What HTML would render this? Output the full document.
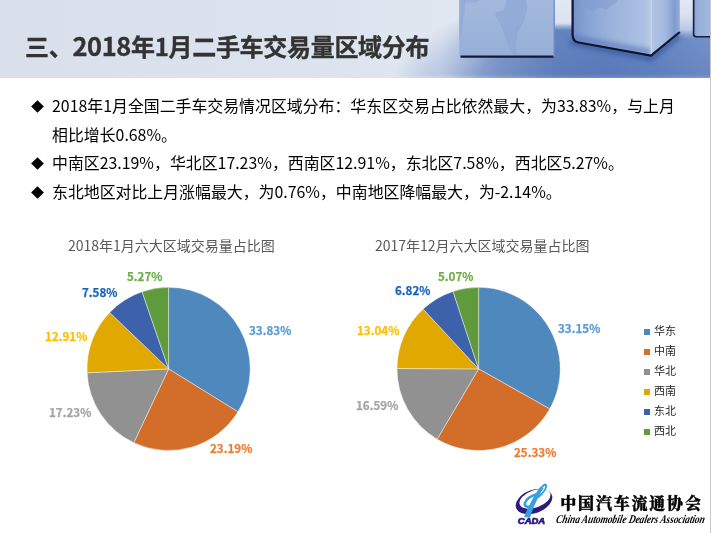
<!DOCTYPE html>
<html><head><meta charset="utf-8">
<style>
html,body{margin:0;padding:0;background:#fff;}
body{width:711px;height:533px;position:relative;overflow:hidden;font-family:"Liberation Sans","Noto Sans CJK SC",sans-serif;}
.abs{position:absolute;white-space:nowrap;opacity:0.999;}
#hdr{position:absolute;left:0;top:0;width:711px;height:78px;}
#title{left:25px;top:28.5px;font-size:24px;font-weight:bold;color:#333;letter-spacing:-0.3px;-webkit-text-stroke:0.35px #333;font-family:"Noto Sans CJK SC",sans-serif;line-height:34px;}
.tn{font-size:25.4px;letter-spacing:-0.35px;position:relative;top:0.2px;line-height:0;}
.bl{font-size:15.9px;color:#000;font-weight:400;font-family:"Noto Sans CJK SC",sans-serif;line-height:20px;}
.dm{position:absolute;width:9px;height:9px;background:#000;transform:rotate(45deg);}
.ct{font-size:14px;color:#595959;font-weight:400;font-family:"Noto Sans CJK SC",sans-serif;line-height:20px;}
.lb{font-size:11.6px;font-weight:bold;-webkit-text-stroke:0.25px currentColor;font-family:"Noto Sans CJK SC",sans-serif;line-height:16px;}
.lg{font-size:11px;color:#262626;font-weight:400;font-family:"Noto Sans CJK SC",sans-serif;line-height:16px;}
.sq{position:absolute;width:6px;height:6px;}
#vline{position:absolute;left:710px;top:0;width:1px;height:533px;background:#cac6c2;}
</style></head><body>
<svg id="hdr" width="711" height="78" viewBox="0 0 711 78">
<defs>
<linearGradient id="hbg" x1="0" y1="0" x2="1" y2="0">
<stop offset="0" stop-color="#d9e0ec"/><stop offset="0.45" stop-color="#dce3ee"/><stop offset="0.62" stop-color="#e1e7f1"/><stop offset="1" stop-color="#dfe6f2"/>
</linearGradient>
<linearGradient id="floorH" x1="440" y1="0" x2="711" y2="0" gradientUnits="userSpaceOnUse">
<stop offset="0" stop-color="#b9c8e5"/><stop offset="0.074" stop-color="#a2b6dd"/><stop offset="0.22" stop-color="#7f9acd"/><stop offset="0.44" stop-color="#6282c0"/><stop offset="0.6" stop-color="#5e7fbe"/><stop offset="0.8" stop-color="#6584c2"/><stop offset="1" stop-color="#7390c8"/>
</linearGradient>
<linearGradient id="floorV" x1="0" y1="40" x2="0" y2="78" gradientUnits="userSpaceOnUse">
<stop offset="0" stop-color="#324f8c" stop-opacity="0"/><stop offset="0.9" stop-color="#324f8c" stop-opacity="0.12"/><stop offset="1" stop-color="#ffffff" stop-opacity="0.1"/>
</linearGradient>
<radialGradient id="fmg" cx="640" cy="90" r="250" gradientUnits="userSpaceOnUse" gradientTransform="translate(640,90) scale(1,0.42) translate(-640,-90)">
<stop offset="0" stop-color="#fff"/><stop offset="0.66" stop-color="#fff"/><stop offset="0.86" stop-color="#999"/><stop offset="1" stop-color="#000"/>
</radialGradient>
<filter id="bl2" x="-20%" y="-50%" width="140%" height="200%"><feGaussianBlur stdDeviation="2"/></filter>
<filter id="bl1" x="-20%" y="-50%" width="140%" height="200%"><feGaussianBlur stdDeviation="1"/></filter>
<mask id="fm"><rect x="380" y="0" width="331" height="78" fill="url(#fmg)"/></mask>
<linearGradient id="c1" x1="0" y1="0" x2="0" y2="1">
<stop offset="0" stop-color="#a3b9dc"/><stop offset="1" stop-color="#97afd8"/>
</linearGradient>
<linearGradient id="c2" x1="0" y1="0" x2="1" y2="0">
<stop offset="0" stop-color="#7491ca"/><stop offset="0.2" stop-color="#88a3d5"/><stop offset="0.5" stop-color="#9bb3db"/><stop offset="0.9" stop-color="#abc0e2"/><stop offset="1" stop-color="#b8c9e6"/>
</linearGradient>
<linearGradient id="c2r" x1="0" y1="0" x2="1" y2="0">
<stop offset="0" stop-color="#b3c5e5"/><stop offset="0.5" stop-color="#a2b8de"/><stop offset="0.82" stop-color="#809bd0"/><stop offset="1" stop-color="#93abd8"/>
</linearGradient>
<linearGradient id="gap2" x1="0" y1="0" x2="0" y2="1">
<stop offset="0" stop-color="#e2e8f3"/><stop offset="0.35" stop-color="#dbe3f0"/><stop offset="0.75" stop-color="#b9c8e5"/><stop offset="1" stop-color="#8fa8d6" stop-opacity="0"/>
</linearGradient>
<linearGradient id="c3" x1="0" y1="0" x2="1" y2="0">
<stop offset="0" stop-color="#7e9ad0"/><stop offset="0.25" stop-color="#96aed9"/><stop offset="1" stop-color="#a3b8dd"/>
</linearGradient>
<linearGradient id="gap" x1="0" y1="0" x2="0" y2="1">
<stop offset="0" stop-color="#e2e8f3"/><stop offset="0.68" stop-color="#dae2f0"/><stop offset="0.9" stop-color="#b5c6e4" stop-opacity="0"/>
</linearGradient>
</defs>
<rect width="711" height="78" fill="url(#hbg)"/>
<g mask="url(#fm)"><rect x="380" y="0" width="331" height="78" fill="url(#floorH)"/><rect x="380" y="40" width="331" height="38" fill="url(#floorV)"/></g>
<rect x="554" y="0" width="19" height="34" fill="url(#gap)"/>
<rect x="679" y="0" width="15" height="40" fill="url(#gap2)"/>
<path d="M462,59 L553,59" stroke="#2f4f92" stroke-width="4" opacity="0.35" filter="url(#bl2)"/>
<path d="M570,42 L651,58.5 L680,35" fill="none" stroke="#2a4a8e" stroke-width="6" opacity="0.5" filter="url(#bl2)"/>
<path d="M694,39 L711,39" stroke="#2a4a8e" stroke-width="4" opacity="0.4" filter="url(#bl2)"/>
<path d="M459.3,0 L554.6,0 L554.6,55 Q554.6,57 552.6,57 L461.3,57 Q459.3,57 459.3,55 Z" fill="url(#c1)"/>
<path d="M459.3,0 L466,0 L464.5,6 L465,12 L463,20 L462,30 L460.5,38 L459.3,40 Z" fill="#8fa9d5" opacity="0.75"/>
<path d="M462,0 L480,0 Q478,3 470,2.5 Q465,2 462,1.5 Z" fill="#8fa9d5" opacity="0.6"/>
<path d="M506.2,0 L525.9,0 Q527.5,5 527,10 Q525.5,17 523.5,22 Q520,28 517.5,33 Q516.3,39 516.5,45 L516.5,53 Q515,55.5 513,55 L511,52 Q508.5,48 508,45 Q506,40 505,38 Q503.5,32 502,28 Q499.5,23 498,20 Q495,16 495.5,13 Q499,11 504,10 Q506,5 506.2,0 Z" fill="#8ea9d6" opacity="0.8"/>
<line x1="554.2" y1="0" x2="554.2" y2="55" stroke="#5f7fbb" stroke-width="1"/>
<line x1="460.5" y1="56.6" x2="553.5" y2="56.6" stroke="#111a33" stroke-width="2.4"/>
<clipPath id="c2clip"><path d="M572.3,0 L651,0 L651,55 L578,41.8 Q572.3,40.8 572.3,35 Z"/></clipPath>
<path d="M572.3,0 L651,0 L651,55 L578,41.8 Q572.3,40.8 572.3,35 Z" fill="url(#c2)"/>
<g clip-path="url(#c2clip)">
<path d="M572,38 L651,52.5" stroke="#5572b4" stroke-width="7" opacity="0.55" filter="url(#bl2)"/>
<path d="M574,0 L574,40" stroke="#4f6eb0" stroke-width="5" opacity="0.45" filter="url(#bl2)"/>
<path d="M578,0 Q583,5 588,9 Q593,14 596,9 Q601,6 606,10 Q612,5 616,3 L618,0 Z" fill="#7f9bd0" opacity="0.55"/>
</g>
<path d="M651,0 L679.8,0 L679.8,31.6 L651,55 Z" fill="url(#c2r)"/>
<path d="M651.2,0 L651.2,54" stroke="#dbe4f3" stroke-width="1.2" opacity="0.6"/>
<path d="M572.6,0 L572.6,35 Q572.6,41.4 578.6,42.5 L651,55.7 L679.8,32" fill="none" stroke="#0d1530" stroke-width="2.2" stroke-linejoin="round"/>
<path d="M693,0 L710,0 L710,37 L696,37 Q693,37 693,34 Z" fill="url(#c3)"/>
<path d="M693.6,0 L693.6,34 Q693.6,36.8 696.5,36.8 L710,36.8" fill="none" stroke="#141e3c" stroke-width="1.6"/>
</svg>
<div class="abs" id="title">三、<span class="tn">2018</span>年1月二手车交易量区域分布</div>

<div class="dm" style="left:33px;top:102px"></div>
<div class="abs bl" style="left:52px;top:96px">2018年1月全国二手车交易情况区域分布：华东区交易占比依然最大，为33.83%，与上月</div>
<div class="abs bl" style="left:52px;top:125px">相比增长0.68%。</div>
<div class="dm" style="left:33px;top:159px"></div>
<div class="abs bl" style="left:52px;top:153px">中南区23.19%，华北区17.23%，西南区12.91%，东北区7.58%，西北区5.27%。</div>
<div class="dm" style="left:33px;top:188px"></div>
<div class="abs bl" style="left:52px;top:182px">东北地区对比上月涨幅最大，为0.76%，中南地区降幅最大，为-2.14%。</div>

<div class="abs ct" style="left:68px;top:235px">2018年1月六大区域交易量占比图</div>
<div class="abs ct" style="left:375px;top:235px">2017年12月六大区域交易量占比图</div>

<svg style="position:absolute;left:0;top:0" width="711" height="533" viewBox="0 0 711 533">
<g stroke="#ffffff" stroke-width="0.5" stroke-opacity="0.85" stroke-linejoin="round">
<path d="M168.6,368.9 L168.60,287.30 A81.6,81.6 0 0 1 237.97,411.87 Z" fill="#4F88BD"/>
<path d="M168.6,368.9 L237.97,411.87 A81.6,81.6 0 0 1 133.79,442.70 Z" fill="#D26D2A"/>
<path d="M168.6,368.9 L133.79,442.70 A81.6,81.6 0 0 1 87.09,372.78 Z" fill="#919191"/>
<path d="M168.6,368.9 L87.09,372.78 A81.6,81.6 0 0 1 109.65,312.48 Z" fill="#E0A800"/>
<path d="M168.6,368.9 L109.65,312.48 A81.6,81.6 0 0 1 142.07,291.73 Z" fill="#3D62AB"/>
<path d="M168.6,368.9 L142.07,291.73 A81.6,81.6 0 0 1 168.60,287.30 Z" fill="#5F9A3C"/>
<path d="M478.6,368.9 L478.60,287.30 A81.6,81.6 0 0 1 549.73,408.88 Z" fill="#4F88BD"/>
<path d="M478.6,368.9 L549.73,408.88 A81.6,81.6 0 0 1 437.15,439.19 Z" fill="#D26D2A"/>
<path d="M478.6,368.9 L437.15,439.19 A81.6,81.6 0 0 1 397.00,368.54 Z" fill="#919191"/>
<path d="M478.6,368.9 L397.00,368.54 A81.6,81.6 0 0 1 423.15,309.03 Z" fill="#E0A800"/>
<path d="M478.6,368.9 L423.15,309.03 A81.6,81.6 0 0 1 453.04,291.41 Z" fill="#3D62AB"/>
<path d="M478.6,368.9 L453.04,291.41 A81.6,81.6 0 0 1 478.60,287.30 Z" fill="#5F9A3C"/>
</g>
</svg>

<div class="abs lb" style="left:249px;top:322px;color:#5B9BD5">33.83%</div>
<div class="abs lb" style="left:210px;top:440px;color:#ED7D31">23.19%</div>
<div class="abs lb" style="left:49px;top:404px;color:#A5A5A5">17.23%</div>
<div class="abs lb" style="left:45px;top:328px;color:#FFC000">12.91%</div>
<div class="abs lb" style="left:82px;top:284px;color:#1565C0">7.58%</div>
<div class="abs lb" style="left:127px;top:268px;color:#70AD47">5.27%</div>

<div class="abs lb" style="left:558px;top:320px;color:#5B9BD5">33.15%</div>
<div class="abs lb" style="left:514px;top:444px;color:#ED7D31">25.33%</div>
<div class="abs lb" style="left:356px;top:397px;color:#A5A5A5">16.59%</div>
<div class="abs lb" style="left:357px;top:322px;color:#FFC000">13.04%</div>
<div class="abs lb" style="left:395px;top:282px;color:#1565C0">6.82%</div>
<div class="abs lb" style="left:438px;top:268px;color:#70AD47">5.07%</div>

<div class="sq" style="left:644px;top:329px;background:#4F88BD"></div>
<div class="sq" style="left:644px;top:349px;background:#D26D2A"></div>
<div class="sq" style="left:644px;top:369px;background:#919191"></div>
<div class="sq" style="left:644px;top:389px;background:#E0A800"></div>
<div class="sq" style="left:644px;top:409px;background:#3D62AB"></div>
<div class="sq" style="left:644px;top:429px;background:#5F9A3C"></div>
<div class="abs lg" style="left:654px;top:322px">华东</div>
<div class="abs lg" style="left:654px;top:342px">中南</div>
<div class="abs lg" style="left:654px;top:362px">华北</div>
<div class="abs lg" style="left:654px;top:382px">西南</div>
<div class="abs lg" style="left:654px;top:402px">东北</div>
<div class="abs lg" style="left:654px;top:422px">西北</div>

<svg style="position:absolute;left:0;top:0;opacity:0.999" width="711" height="533" viewBox="0 0 711 533">
<g transform="rotate(-20 534 501.5)">
<path fill-rule="evenodd" fill="#2d1a7e" d="M515,501.5 a19,11.6 0 1,0 38,0 a19,11.6 0 1,0 -38,0 Z M519.6,499.4 a16.2,8.6 0 1,0 32.4,0 a16.2,8.6 0 1,0 -32.4,0 Z"/>
</g>
<g fill="none" stroke="#34a0dc" stroke-linecap="round" stroke-linejoin="round">
<path d="M541.5,487.8 C543.2,485 545.8,483.4 546.2,485.6 C546.5,488.5 543,493.5 538.5,497" stroke-width="1.9"/>
<path d="M536.5,494.2 C531,495.8 526.3,499.3 524.9,503 C523.9,506.6 528.3,507.8 532.3,505.6" stroke-width="2.5"/>
</g>
<path d="M524,517.2 L530.2,517.2 C531.8,512 534,506 537,500 C539,496 541.5,491.5 543.6,488.3 L540.3,486.8 C537,491 533.5,497 530.5,503 C528,508 525.8,512.5 524,517.2 Z" fill="#34a0dc"/>
<text x="517.8" y="524.4" font-family="Liberation Sans, sans-serif" font-weight="bold" font-style="italic" font-size="8.4" fill="#2d1a7e" stroke="#2d1a7e" stroke-width="0.7" textLength="27.4" lengthAdjust="spacingAndGlyphs">CADA</text>
<text x="560.3" y="509.3" font-family="Noto Serif CJK SC, serif" font-weight="900" font-size="16" fill="#000" stroke="#000" stroke-width="0.35" textLength="140.6" lengthAdjust="spacing">中国汽车流通协会</text>
<text x="555.5" y="523" font-family="Liberation Serif, serif" font-style="italic" font-weight="bold" font-size="11.8" fill="#000" textLength="148.7" lengthAdjust="spacingAndGlyphs" transform="translate(555.5 523) skewX(-12) translate(-555.5 -523)">China Automobile Dealers Association</text>
</svg>
<div id="vline"></div>
</body></html>
